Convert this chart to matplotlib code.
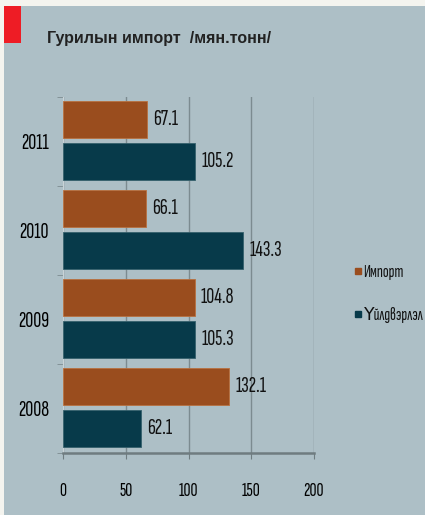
import numpy as np
import matplotlib
matplotlib.use("Agg")
from matplotlib import pyplot as plt
from matplotlib.patches import Rectangle
from matplotlib.lines import Line2D

# chart data
years = ["2008", "2009", "2010", "2011"]
import_vals = [132.1, 104.8, 66.1, 67.1]
prod_vals = [62.1, 105.3, 143.3, 105.2]
series_names = ["Импорт", "Үйлдвэрлэл"]
x_ticks = [0, 50, 100, 150, 200]

col_import = "#9a4d1e"
col_prod = "#073a4a"
panel = "#adbfc6"
narrow = dict(family=["Sofia Sans Extra Condensed", "DejaVu Sans"])

fig = plt.figure(figsize=(4.25, 5.15), dpi=100)
fig.patch.set_facecolor("#f4f4ef")

# blue-grey panel and red corner block
fig.patches.append(Rectangle((4 / 425, 0), 1, 1 - 6 / 515, transform=fig.transFigure,
                             facecolor=panel, edgecolor="none", zorder=-2))
fig.patches.append(Rectangle((4 / 425, 1 - 43 / 515), 17 / 425, 37 / 515,
                             transform=fig.transFigure, facecolor="#ee1c25",
                             edgecolor="none", zorder=-1))

fig.text(47 / 425, 1 - 38 / 515, "Гурилын импорт  /мян.тонн/", fontsize=11.5,
         fontweight="bold", color="#222222", va="center", ha="left",
         family=["Liberation Sans", "DejaVu Sans"])

ax = fig.add_axes([63 / 425, 62 / 515, 251 / 425, 356 / 515])
ax.set_facecolor("none")

y = np.arange(len(years))
h = 0.41
ax.barh(y + 0.245, import_vals, height=h, color=col_import,
        edgecolor="#b8703f", linewidth=0.6, zorder=3)
ax.barh(y - 0.225, prod_vals, height=h, color=col_prod,
        edgecolor="#35606c", linewidth=0.6, zorder=3)

for yi, v in zip(y, import_vals):
    ax.annotate(f"{v:.1f}", (v, yi + 0.245), xytext=(4.5, 0), textcoords="offset points",
                va="center", ha="left", fontsize=16, color="#111111", **narrow)
for yi, v in zip(y, prod_vals):
    ax.annotate(f"{v:.1f}", (v, yi - 0.225), xytext=(4.5, 0), textcoords="offset points",
                va="center", ha="left", fontsize=16, color="#111111", **narrow)

ax.set_xlim(0, 200)
ax.set_ylim(-0.5, 3.5)
ax.set_xticks(x_ticks)
ax.set_xticklabels([str(t) for t in x_ticks], fontsize=14, **narrow)
ax.set_yticks(y)
ax.set_yticklabels(years, fontsize=16, **narrow)
ax.set_yticks(np.arange(-0.5, 4, 1), minor=True)

ax.grid(axis="x", color="#7c8b90", linewidth=1, zorder=0)
ax.tick_params(axis="y", which="major", length=0, pad=10)
ax.tick_params(axis="y", which="minor", length=4, color="#7c8b90")
ax.tick_params(axis="x", length=4, color="#6f7c80", pad=17)

for side in ["top", "right"]:
    ax.spines[side].set_visible(False)
ax.spines["left"].set_color("#c9d3d7")
ax.spines["bottom"].set_color("#6f7c80")
ax.spines["bottom"].set_linewidth(1.8)

handles = [Line2D([], [], marker="s", linestyle="none", markersize=5,
                  markerfacecolor=c, markeredgecolor=c) for c in (col_import, col_prod)]
fig.legend(handles, series_names, loc="center left", bbox_to_anchor=(334 / 425, 1 - 294 / 515),
           frameon=False, prop={"size": 12.5, **narrow}, labelcolor="#111111",
           handletextpad=-0.2, labelspacing=1.55, handlelength=1.0)

fig.savefig("out.png", dpi=100, facecolor=fig.get_facecolor())
